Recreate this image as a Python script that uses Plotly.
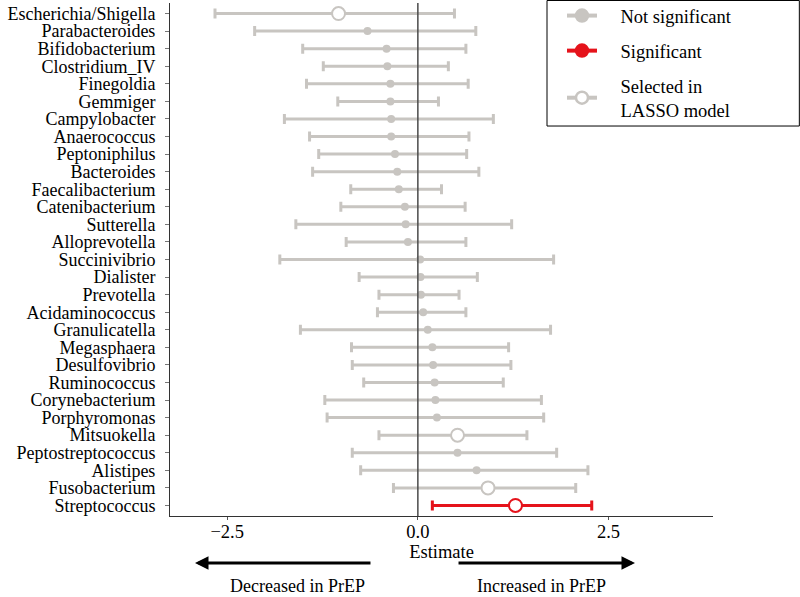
import plotly.graph_objects as go

genus = ["Escherichia/Shigella", "Parabacteroides", "Bifidobacterium", "Clostridium_IV",
         "Finegoldia", "Gemmiger", "Campylobacter", "Anaerococcus", "Peptoniphilus",
         "Bacteroides", "Faecalibacterium", "Catenibacterium", "Sutterella", "Alloprevotella",
         "Succinivibrio", "Dialister", "Prevotella", "Acidaminococcus", "Granulicatella",
         "Megasphaera", "Desulfovibrio", "Ruminococcus", "Corynebacterium", "Porphyromonas",
         "Mitsuokella", "Peptostreptococcus", "Alistipes", "Fusobacterium", "Streptococcus"]
estimate = [-1.04, -0.66, -0.41, -0.40, -0.36, -0.36, -0.35, -0.35, -0.30, -0.27,
            -0.25, -0.17, -0.16, -0.13, 0.03, 0.035, 0.04, 0.07, 0.13, 0.19,
            0.20, 0.22, 0.23, 0.25, 0.52, 0.52, 0.77, 0.92, 1.28]
lower = [-2.66, -2.14, -1.51, -1.24, -1.46, -1.05, -1.75, -1.42, -1.30, -1.38,
         -0.88, -1.01, -1.60, -0.94, -1.81, -0.77, -0.51, -0.53, -1.54, -0.87,
         -0.86, -0.71, -1.22, -1.19, -0.51, -0.86, -0.75, -0.32, 0.19]
upper = [0.48, 0.76, 0.63, 0.40, 0.66, 0.27, 0.99, 0.67, 0.64, 0.80,
         0.31, 0.62, 1.23, 0.63, 1.78, 0.78, 0.54, 0.63, 1.74, 1.19,
         1.22, 1.12, 1.62, 1.65, 1.43, 1.82, 2.23, 2.07, 2.28]
significant = [False] * 28 + [True]
lasso_selected = ["Escherichia/Shigella", "Mitsuokella", "Fusobacterium", "Streptococcus"]
x_ticks = [-2.5, 0.0, 2.5]

GRAY = "#C8C5C1"
RED = "#E5131B"
FONT = "Liberation Serif"
FS = 18.5
PAD = "\u00a0" * 4

fig = go.Figure()


def add_group(idx, color, open_marker):
    xs = [estimate[i] for i in idx]
    ys = [genus[i] for i in idx]
    fig.add_trace(go.Scatter(
        x=xs, y=ys, mode="markers", showlegend=False,
        error_x=dict(type="data", symmetric=False,
                     array=[upper[i] - estimate[i] for i in idx],
                     arrayminus=[estimate[i] - lower[i] for i in idx],
                     color=color, thickness=3, width=5),
        marker=dict(symbol="circle", size=13 if open_marker else 8,
                    color="white" if open_marker else color,
                    line=dict(color=color, width=2 if open_marker else 0)),
        hoverinfo="skip",
    ))


idx_ns = [i for i in range(len(genus)) if not significant[i] and genus[i] not in lasso_selected]
idx_lasso = [i for i in range(len(genus)) if not significant[i] and genus[i] in lasso_selected]
idx_sig = [i for i in range(len(genus)) if significant[i]]
add_group(idx_ns, GRAY, False)
add_group(idx_lasso, GRAY, True)
add_group(idx_sig, RED, True)

# legend entries
legend_items = [(PAD + "Not significant", GRAY, GRAY),
                (PAD + "Significant", RED, RED),
                (PAD + "Selected in<br>" + PAD + "LASSO model", GRAY, "white")]
for k, (name, col, fill) in enumerate(legend_items):
    fig.add_trace(go.Scatter(
        x=[None], y=[None], mode="lines+markers", name=name,
        legendgroup=f"g{k}",
        line=dict(color=col, width=4),
        marker=dict(symbol="circle", size=12, color=fill, line=dict(color=col, width=2.5)),
    ))

fig.add_shape(type="line", xref="x", yref="paper", x0=0, x1=0, y0=0, y1=1,
              line=dict(color="#4A4A4A", width=1.5), layer="above")

# legend box
fig.add_shape(type="rect", xref="paper", yref="paper",
              x0=0.6943, x1=1.159, y0=0.7602, y1=1.0049,
              line=dict(color="black", width=1), fillcolor="rgba(0,0,0,0)")

# direction arrows
fig.add_annotation(xref="paper", yref="paper", x=0.046, y=-0.0916,
                   ax=177, ay=0, axref="pixel", ayref="pixel", text="",
                   showarrow=True, arrowhead=2, arrowsize=0.9, arrowwidth=3,
                   arrowcolor="black")
fig.add_annotation(xref="paper", yref="paper", x=0.8564, y=-0.0916,
                   ax=-178, ay=0, axref="pixel", ayref="pixel", text="",
                   showarrow=True, arrowhead=2, arrowsize=0.9, arrowwidth=3,
                   arrowcolor="black")
fig.add_annotation(xref="paper", yref="paper", x=0.2339, y=-0.1364,
                   xanchor="center", yanchor="middle",
                   text="Decreased in PrEP", showarrow=False,
                   font=dict(family=FONT, size=18, color="black"))
fig.add_annotation(xref="paper", yref="paper", x=0.685, y=-0.1364,
                   xanchor="center", yanchor="middle",
                   text="Increased in PrEP", showarrow=False,
                   font=dict(family=FONT, size=18, color="black"))

fig.update_layout(
    width=800, height=597,
    margin=dict(l=170, r=87, t=3, b=81, pad=0, autoexpand=False),
    paper_bgcolor="white", plot_bgcolor="white",
    font=dict(family=FONT, size=FS, color="black"),
    showlegend=True,
    legend=dict(x=0.7219, y=1.0116, xanchor="left", yanchor="top",
                bgcolor="rgba(0,0,0,0)", borderwidth=0,
                traceorder="grouped", tracegroupgap=8, itemwidth=30,
                font=dict(family=FONT, size=FS, color="black")),
    xaxis=dict(range=[-3.25, 3.87], tickvals=x_ticks, tickformat=".1f",
               showgrid=False, zeroline=False, showline=True, linecolor="#333333",
               linewidth=1, ticks="outside", ticklen=3, tickcolor="#555555",
               automargin=False, ticklabelstandoff=-4,
               tickfont=dict(family=FONT, size=FS, color="black"),
               title=dict(text="Estimate", standoff=0,
                          font=dict(family=FONT, size=FS, color="black"))),
    yaxis=dict(type="category", categoryorder="array", categoryarray=genus,
               tickmode="array", tickvals=genus,
               range=[len(genus) - 0.4, -0.6], automargin=False,
               showgrid=False, zeroline=False, showline=True, linecolor="#333333",
               linewidth=1, ticks="outside", ticklen=4, tickcolor="#777777",
               ticklabelstandoff=6,
               tickfont=dict(family=FONT, size=18, color="black")),
)

fig.write_html("out.html", config={"displayModeBar": False},
               post_script="document.body.style.margin='0';document.body.style.overflow='hidden';")
